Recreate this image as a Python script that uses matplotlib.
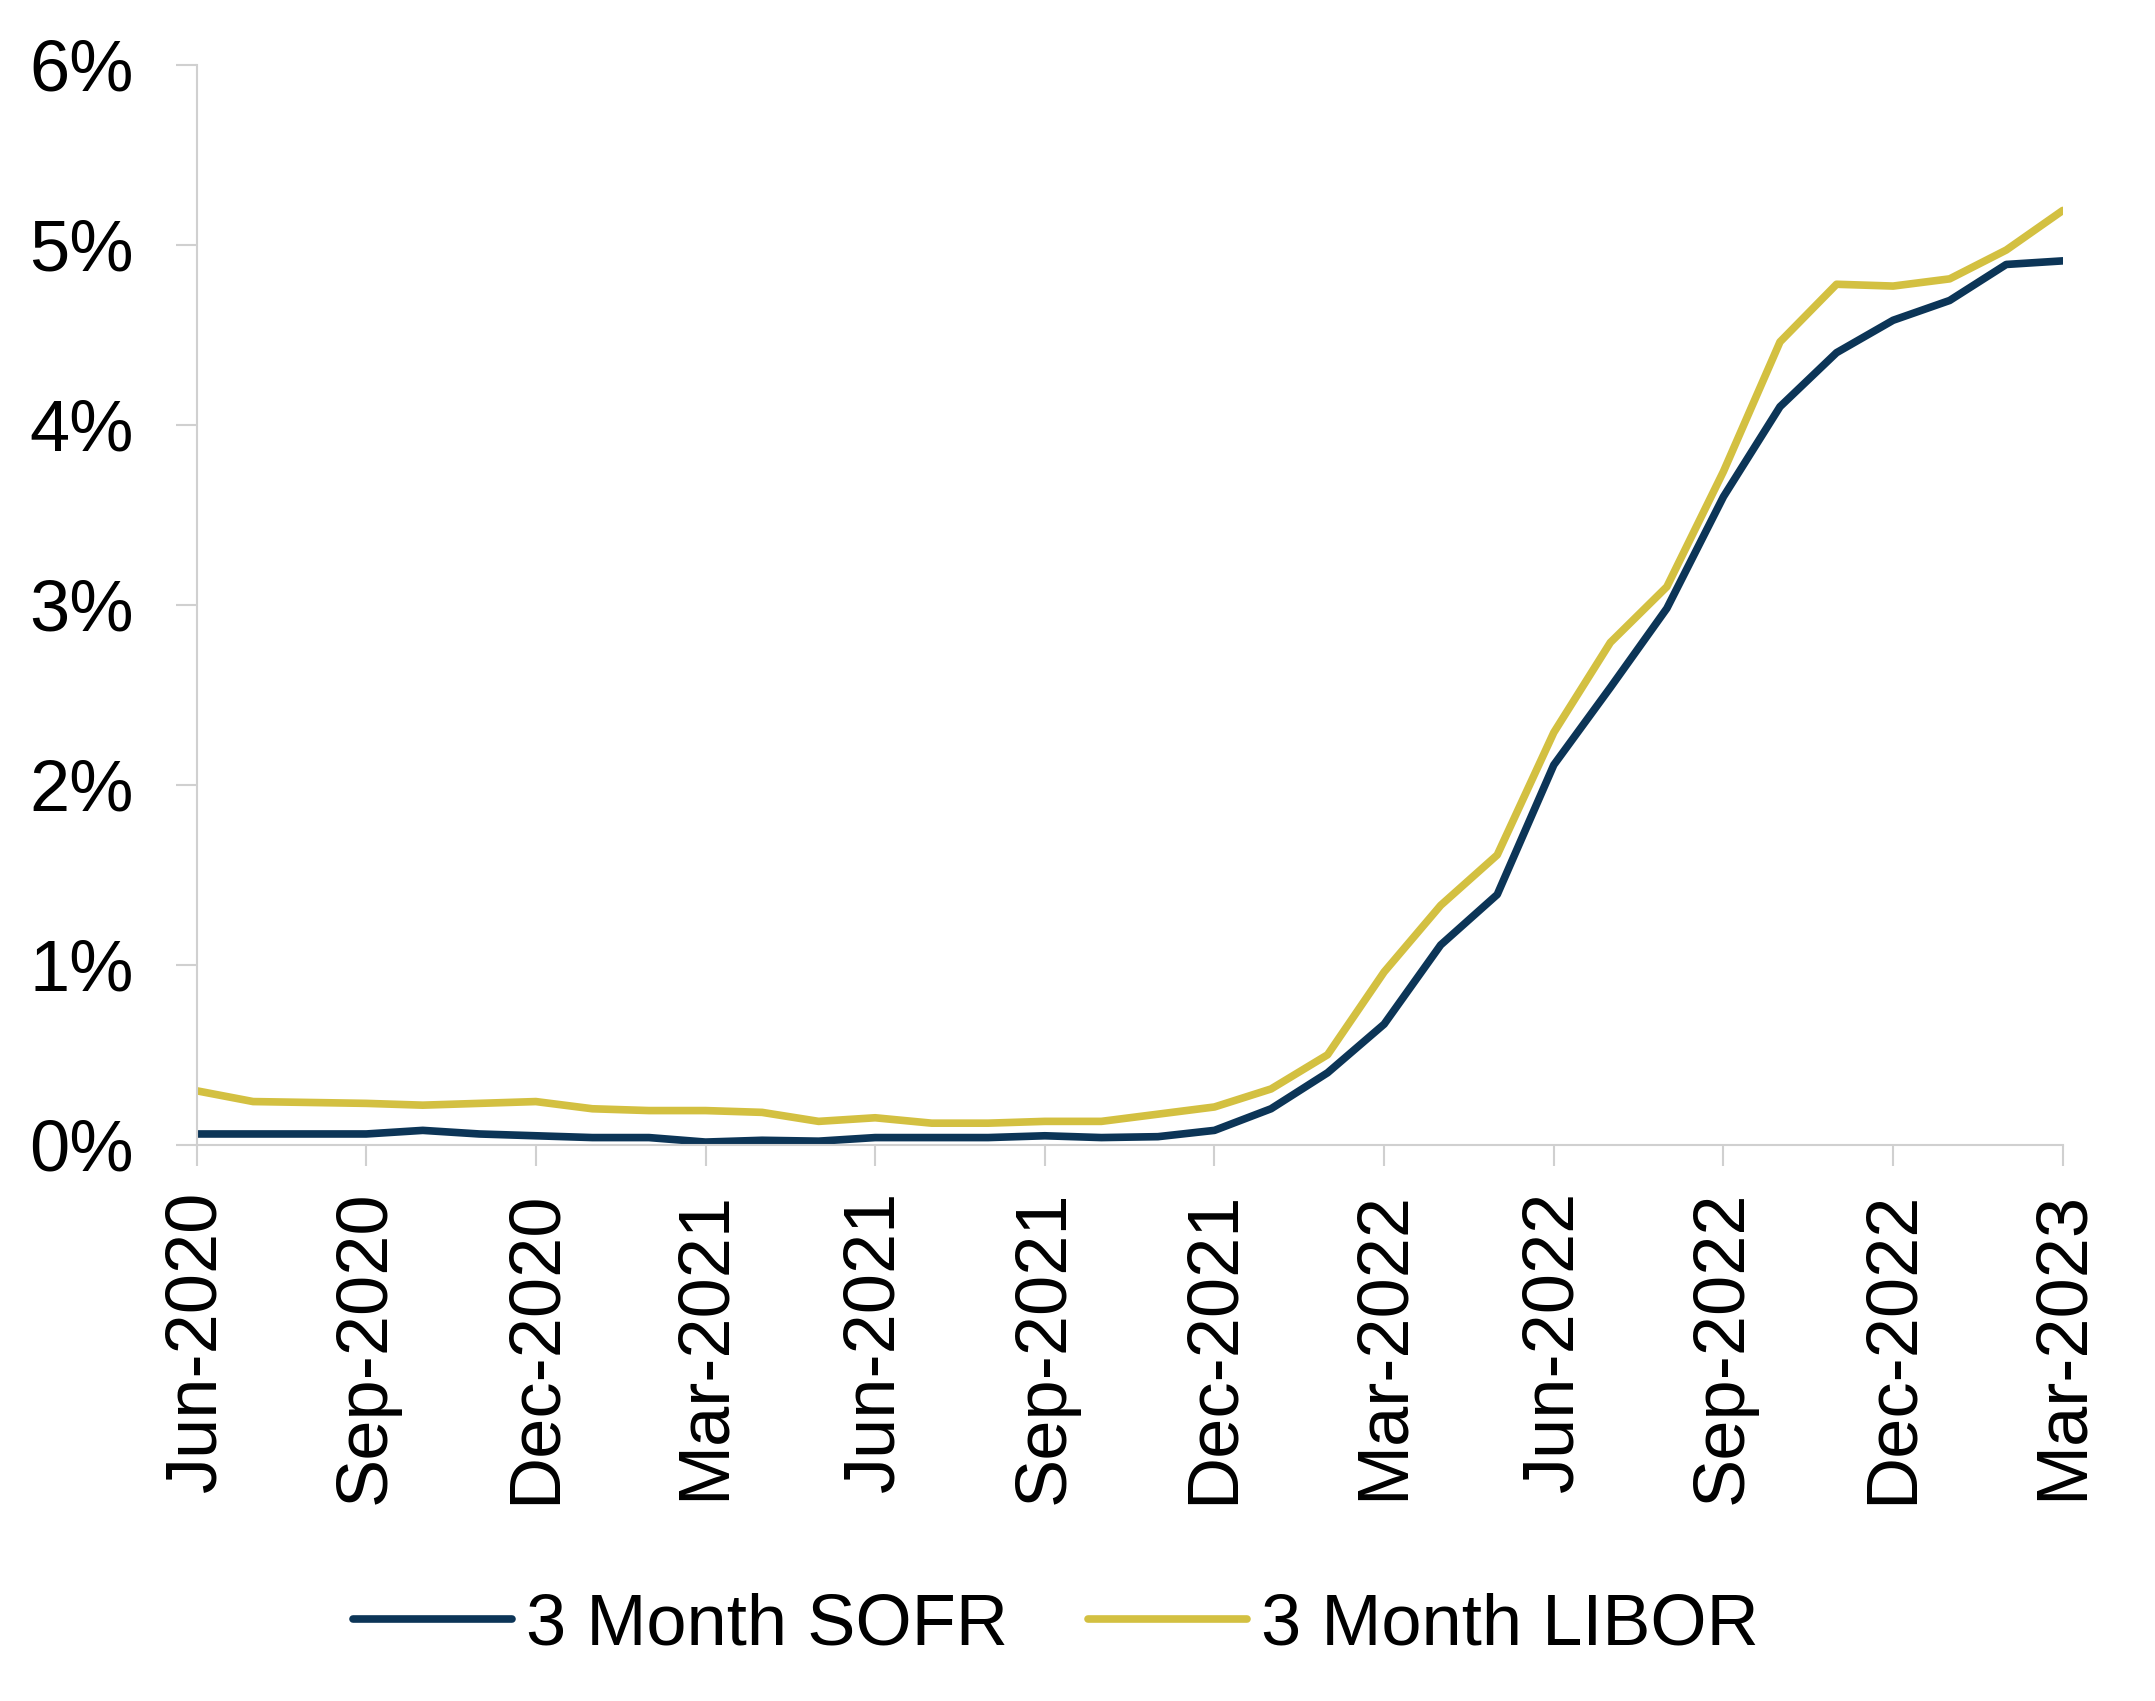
import matplotlib.pyplot as plt
import numpy as np
import pandas as pd

plt.rcParams['font.family'] = ['Liberation Sans', 'DejaVu Sans']

months = pd.date_range('2020-06-01', '2023-03-01', freq='MS')

sofr = [0.06, 0.06, 0.06, 0.06, 0.08, 0.06, 0.05, 0.04, 0.04, 0.015,
        0.025, 0.02, 0.04, 0.04, 0.04, 0.05, 0.04, 0.045, 0.08, 0.20,
        0.40, 0.67, 1.11, 1.39, 2.11, 2.54, 2.98, 3.60, 4.10, 4.40,
        4.58, 4.69, 4.89, 4.91]
libor = [0.30, 0.24, 0.235, 0.23, 0.22, 0.23, 0.24, 0.20, 0.19, 0.19,
         0.18, 0.13, 0.15, 0.12, 0.12, 0.13, 0.13, 0.17, 0.21, 0.31,
         0.50, 0.96, 1.33, 1.61, 2.29, 2.79, 3.10, 3.74, 4.46, 4.78,
         4.77, 4.81, 4.97, 5.19]

tick_pos = list(range(0, len(months), 3))
tick_labels = [months[i].strftime('%b-%Y') for i in tick_pos]
y_ticks = [0, 1, 2, 3, 4, 5, 6]

navy = '#0C3557'
gold = '#D3C041'
grey = '#D0D0D0'

fig = plt.figure(figsize=(21.55, 17.01), dpi=100)
ax = fig.add_axes([0.0912, 0.327, 0.866, 0.635])

x = np.arange(len(months))
ax.plot(x, sofr, color=navy, lw=5.5, label='3 Month SOFR', solid_capstyle='round')
ax.plot(x, libor, color=gold, lw=5.5, label='3 Month LIBOR', solid_capstyle='round')

ax.set_xlim(0, len(months) - 1)
ax.set_ylim(0, 6)
ax.set_yticks(y_ticks)
ax.set_yticklabels([f'{v}%' for v in y_ticks])
ax.set_xticks(tick_pos)
ax.set_xticklabels(tick_labels, rotation=90)

for s in ['top', 'right']:
    ax.spines[s].set_visible(False)
for s in ['left', 'bottom']:
    ax.spines[s].set_color(grey)
    ax.spines[s].set_linewidth(1.5)

ax.tick_params(axis='both', colors=grey, length=15, width=1.5, labelcolor='black', labelsize=52)
ax.tick_params(axis='y', pad=30)
ax.tick_params(axis='x', pad=18)

fig.legend(loc='center', bbox_to_anchor=(0.49, 0.044), ncol=2, frameon=False,
           fontsize=52, handlelength=2.2, handletextpad=0.2, columnspacing=1.1)

fig.savefig('out.png', dpi=100)
